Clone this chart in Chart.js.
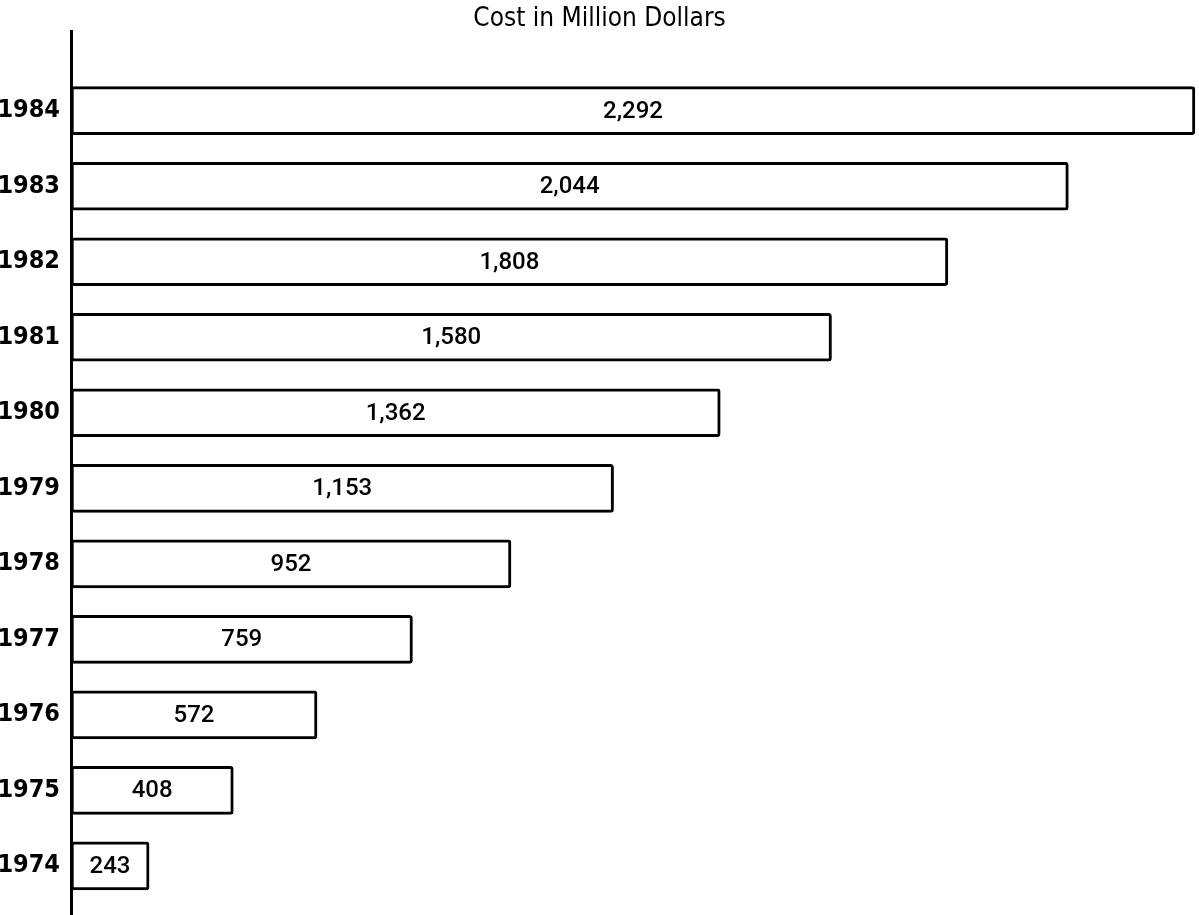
<!DOCTYPE html>
<html>
<head>
<meta charset="utf-8">
<title>Cost in Million Dollars</title>
<script src="https://cdn.jsdelivr.net/npm/chart.js@4.4.1/dist/chart.umd.min.js"></script>
<style>
  html, body { margin: 0; padding: 0; background: #fff; overflow: hidden; }
  #wrap { width: 1199px; height: 915px; }
</style>
</head>
<body>
<div id="wrap"><canvas id="bar-chart"></canvas></div>
<script>
var years = [1984, 1983, 1982, 1981, 1980, 1979, 1978, 1977, 1976, 1975, 1974];
var costs = [2292, 2044, 1808, 1580, 1362, 1153, 952, 759, 572, 408, 243];
var chartTitle = "Cost in Million Dollars";

var narrow = "'DejaVu Sans Condensed', 'Liberation Sans Narrow', sans-serif";

// value written in the middle of each bar
var barLabels = {
  id: 'barLabels',
  afterDatasetsDraw: function(chart) {
    var ctx = chart.ctx;
    var meta = chart.getDatasetMeta(0);
    ctx.save();
    ctx.font = "500 24px Roboto";
    ctx.fillStyle = "#000";
    ctx.textAlign = "center";
    ctx.textBaseline = "middle";
    for (var i = 0; i < meta.data.length; i++) {
      var bar = meta.data[i];
      ctx.fillText(costs[i].toLocaleString('en-US'), (bar.base + bar.x) / 2, bar.y + 1);
    }
    ctx.restore();
  }
};

var points = [];
for (var i = 0; i < years.length; i++) {
  points.push({ x: costs[i], y: years[i] });
}

new Chart(document.getElementById("bar-chart"), {
  type: 'bar',
  data: {
    datasets: [
      {
        label: chartTitle,
        data: points,
        backgroundColor: "#fff",
        borderColor: "#000",
        borderWidth: 3,
        borderRadius: 3,
        borderSkipped: false,
        barThickness: 48,
        base: 90
      }
    ]
  },
  plugins: [barLabels],
  options: {
    indexAxis: 'y',
    responsive: true,
    maintainAspectRatio: false,
    animation: false,
    layout: { padding: 0 },
    scales: {
      x: {
        type: 'linear',
        min: 90,
        max: 2300,
        display: false
      },
      y: {
        type: 'linear',
        offset: false,
        min: 1973.35,
        max: 1985.05,
        grid: { display: false, drawTicks: false, offset: false },
        border: { display: true, color: "#000", width: 3 },
        afterBuildTicks: function(scale) {
          scale.ticks = years.map(function(y) { return { value: y }; });
        },
        afterFit: function(scale) {
          scale.width = 71;
          scale.paddingTop = 0;
          scale.paddingBottom = 0;
        },
        ticks: {
          padding: 11,
          color: "#000",
          font: { family: narrow, size: 25, weight: 'bold' },
          callback: function(v) { return String(v); }
        }
      }
    },
    plugins: {
      legend: { display: false },
      tooltip: { enabled: false },
      title: {
        display: true,
        text: chartTitle,
        color: "#000",
        font: { family: narrow, size: 26, weight: 'normal', lineHeight: 0.9 },
        padding: { top: 8, bottom: 0 }
      }
    }
  }
});
</script>
</body>
</html>
